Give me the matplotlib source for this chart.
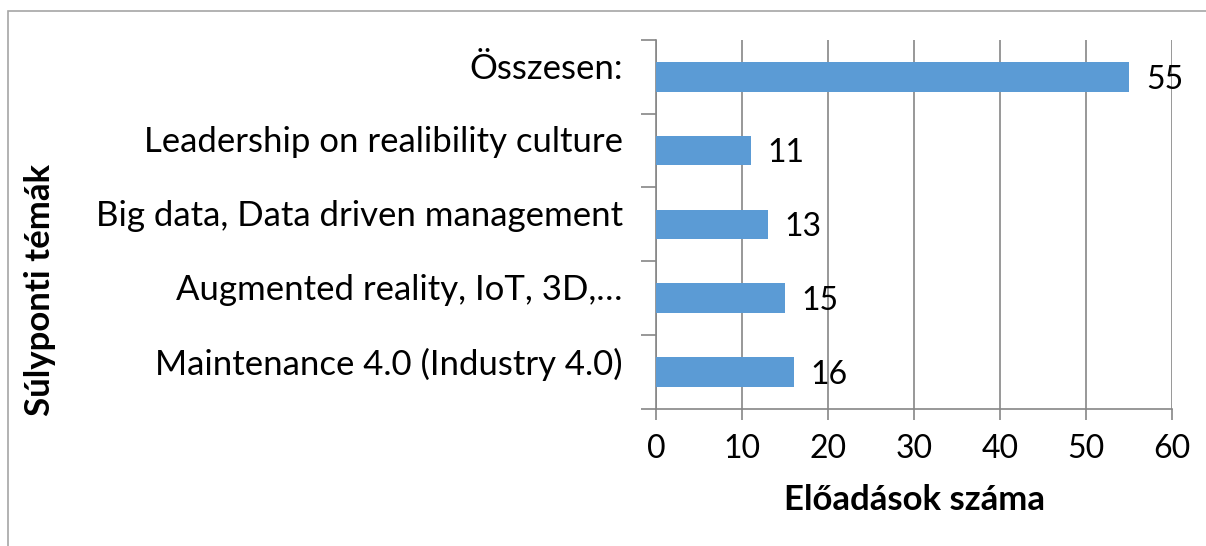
import numpy as np
import matplotlib.pyplot as plt
import matplotlib.transforms as mtransforms
from matplotlib.patches import Rectangle

plt.rcParams['font.family'] = ['Lato', 'DejaVu Sans']

# data (bottom to top)
categories = ['Maintenance 4.0 (Industry 4.0)', 'Augmented reality, IoT, 3D,\u2026',
              'Big data, Data driven management', 'Leadership on realibility culture',
              '\u00d6sszesen:']
values = [16, 15, 13, 11, 55]
xticks = [0, 10, 20, 30, 40, 50, 60]

grid_col = '#868686'
bar_col = '#5B9BD5'
fs = 24

fig = plt.figure(figsize=(12.06, 5.46), dpi=100)
ax = fig.add_axes([0.544, 0.251, 0.972 - 0.544, 0.927 - 0.251])

# outer chart border
fig.patches.append(Rectangle((8 / 1206, -0.1), 1.2, 1 - 11 / 546 + 0.1,
                             transform=fig.transFigure, fill=False,
                             edgecolor='#A6A6A6', linewidth=1.2))

y = np.arange(len(categories))
ax.barh(y, values, height=0.4, color=bar_col, zorder=3)
for yi, v in zip(y, values):
    ax.annotate(str(v), (v, yi), xytext=(12, -2), textcoords='offset points',
                va='center', ha='left', fontsize=23)

ax.set_xlim(0, 60)
ax.set_ylim(-0.5, len(categories) - 0.5)
ax.set_xticks(xticks)
ax.set_xticklabels([str(t) for t in xticks], fontsize=23)
ax.set_yticks(np.arange(len(categories) + 1) - 0.5, minor=True)
ax.set_yticks(y)
ax.set_yticklabels(categories, fontsize=25)
ax.tick_params(axis='y', which='major', length=0, pad=24)
ax.tick_params(axis='y', which='minor', length=11, color=grid_col, width=1.2, direction='out')
ax.tick_params(axis='x', length=8, color=grid_col, width=1.2, direction='out', pad=10)

offset = mtransforms.ScaledTranslation(0, 8 / 72, fig.dpi_scale_trans)
for lbl in ax.get_yticklabels():
    lbl.set_transform(lbl.get_transform() + offset)

ax.grid(axis='x', color=grid_col, linewidth=1.2, zorder=0)
for s in ['top', 'right']:
    ax.spines[s].set_visible(False)
for s in ['left', 'bottom']:
    ax.spines[s].set_color(grid_col)
    ax.spines[s].set_linewidth(1.2)

fig.text(914 / 1206, 1 - 500 / 546, 'El\u0151ad\u00e1sok sz\u00e1ma', fontsize=25,
         fontweight='bold', ha='center', va='center')
fig.text(40 / 1206, 1 - 290 / 546, 'S\u00falyponti t\u00e9m\u00e1k', rotation=90, fontsize=25,
         fontweight='bold', ha='center', va='center')

fig.savefig('out.png', dpi=100)
